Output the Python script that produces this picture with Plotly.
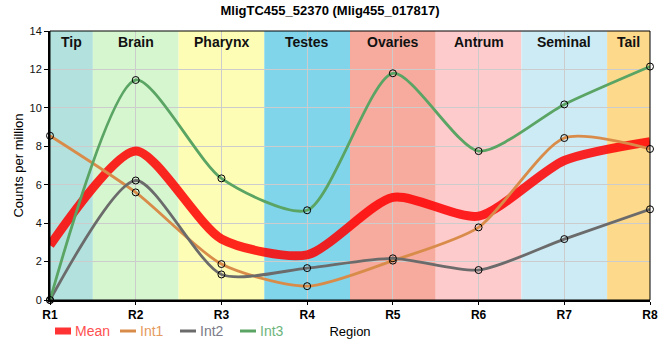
import plotly.graph_objects as go

regions = ["R1", "R2", "R3", "R4", "R5", "R6", "R7", "R8"]
tissues = ["Tip", "Brain", "Pharynx", "Testes", "Ovaries", "Antrum", "Seminal", "Tail"]
tissue_colors = ["#b3e2de", "#d6f6d0", "#fdfdb5", "#80d5eb", "#f6ab9e", "#fdcbcc", "#cdebf4", "#fdd98c"]

int1 = [8.55, 5.6, 1.87, 0.72, 2.05, 3.78, 8.43, 7.86]
int2 = [0.0, 6.22, 1.33, 1.66, 2.17, 1.56, 3.17, 4.72]
int3 = [0.0, 11.45, 6.33, 4.67, 11.8, 7.75, 10.18, 12.15]
mean = [round((a + b + c) / 3, 3) for a, b, c in zip(int1, int2, int3)]

series_names = ["Mean", "Int1", "Int2", "Int3"]
line_colors = ["rgba(255,0,0,0.85)", "#d98c4a", "#6b6b6b", "#5aa464"]
legend_text_colors = ["#ff5050", "#e59a5e", "#7a7a88", "#6db47c"]

FONT = "Liberation Sans, Arial, sans-serif"
x = list(range(len(regions)))
SMOOTH = 0.7

fig = go.Figure()

fig.add_trace(go.Scatter(
    x=x, y=mean, mode="lines", name="Mean", showlegend=False,
    line=dict(color=line_colors[0], width=9, shape="spline", smoothing=SMOOTH),
    cliponaxis=False))

for name, ys, col in zip(series_names[1:], [int1, int2, int3], line_colors[1:]):
    fig.add_trace(go.Scatter(
        x=x, y=ys, mode="lines+markers", name=name, showlegend=False,
        line=dict(color=col, width=2.8, shape="spline", smoothing=SMOOTH),
        marker=dict(symbol="circle", size=7, color="rgba(0,0,0,0)",
                    line=dict(color="black", width=1)),
        cliponaxis=False))

shapes = []
for i, c in enumerate(tissue_colors):
    x0 = max(i - 0.5, 0)
    x1 = min(i + 0.5, len(regions) - 1)
    shapes.append(dict(type="rect", xref="x", yref="paper", x0=x0, x1=x1, y0=0, y1=1,
                       fillcolor=c, line=dict(width=0), layer="below"))
# thin frame on top/right
shapes.append(dict(type="rect", xref="paper", yref="paper", x0=0, x1=1, y0=0, y1=1,
                   line=dict(color="black", width=1), fillcolor="rgba(0,0,0,0)", layer="above"))

annotations = []
for i, t in enumerate(tissues):
    x0 = max(i - 0.5, 0)
    x1 = min(i + 0.5, len(regions) - 1)
    annotations.append(dict(x=(x0 + x1) / 2, y=1, xref="x", yref="paper", yanchor="top",
                            yshift=-1, text=f"<b>{t}</b>", showarrow=False,
                            font=dict(family=FONT, size=14, color="#111111")))

# custom legend (key + label), in paper coordinates
W, H, L, B = 600.0, 269.0, 50.0, 300.0
def px2x(p):
    return (p - L) / W
def py2y(p):
    return (B - p) / H

legend_key_left = [55, 120, 180, 240]
ly = 331
for k, (name, lc, tc) in enumerate(zip(series_names, line_colors, legend_text_colors)):
    xl = legend_key_left[k]
    if k == 0:
        shapes.append(dict(type="rect", xref="paper", yref="paper",
                           x0=px2x(xl), x1=px2x(xl + 16), y0=py2y(ly + 3.5), y1=py2y(ly - 3.5),
                           fillcolor="#ff3333", line=dict(width=0)))
    else:
        shapes.append(dict(type="line", xref="paper", yref="paper",
                           x0=px2x(xl), x1=px2x(xl + 16), y0=py2y(ly), y1=py2y(ly),
                           line=dict(color=lc, width=3)))
    annotations.append(dict(x=px2x(xl + 18), y=py2y(ly), xref="paper", yref="paper",
                            xanchor="left", yanchor="middle", text=name, showarrow=False,
                            font=dict(family=FONT, size=14, color=tc)))

fig.update_layout(
    width=660, height=360,
    margin=dict(l=50, r=10, t=31, b=60, autoexpand=False),
    paper_bgcolor="white", plot_bgcolor="white",
    font=dict(family=FONT, size=13, color="black"),
    title=dict(text="<b>MligTC455_52370 (Mlig455_017817)</b>", x=0.5, xref="container",
               y=0.972, yref="container", yanchor="middle",
               font=dict(family=FONT, size=13, color="black")),
    showlegend=False,
    shapes=shapes, annotations=annotations,
)

fig.update_xaxes(range=[0, len(regions) - 1], tickvals=x, ticktext=[f"<b>{r}</b>" for r in regions],
                 tickfont=dict(family=FONT, size=12, color="black"),
                 showgrid=True, gridcolor="#cccccc", gridwidth=1,
                 showline=True, linecolor="black", linewidth=2,
                 ticks="outside", ticklen=3, tickcolor="black",
                 title=dict(text="Region", font=dict(family=FONT, size=13), standoff=5),
                 zeroline=False, automargin=False)
fig.update_yaxes(range=[0, 14], dtick=2, tickfont=dict(family=FONT, size=11, color="#111111"),
                 showgrid=True, gridcolor="#cccccc", gridwidth=1,
                 showline=True, linecolor="black", linewidth=2,
                 ticks="outside", ticklen=4, tickcolor="black",
                 title=dict(text="Counts per million", font=dict(family=FONT, size=13), standoff=3),
                 zeroline=False, automargin=False)

fig.write_html("out.html", config={"displayModeBar": False},
               post_script="document.body.style.margin='0';")
